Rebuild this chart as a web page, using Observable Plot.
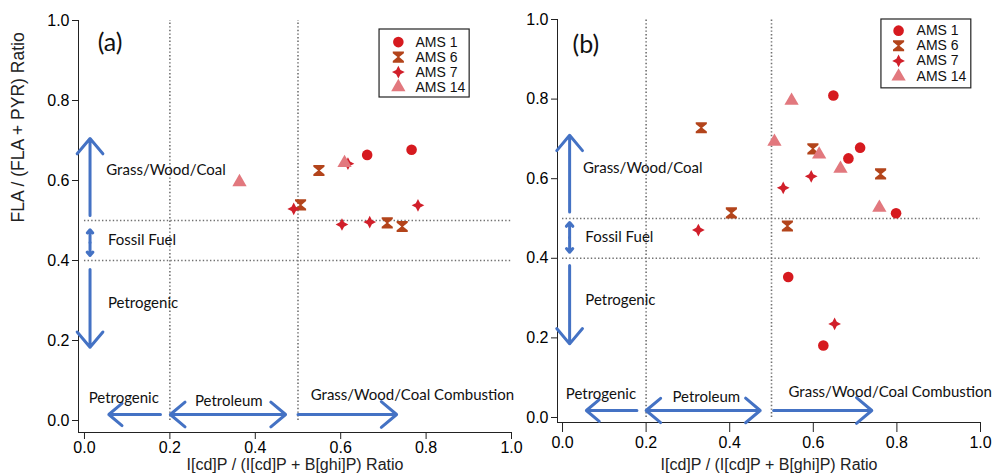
<!DOCTYPE html>
<html><head><meta charset="utf-8">
<script src="https://cdn.jsdelivr.net/npm/d3@7"></script>
<script src="https://cdn.jsdelivr.net/npm/@observablehq/plot@0.6"></script>
<style>
body{margin:0;background:#fff;}
#wrap{position:relative;width:994px;height:476px;overflow:hidden;background:#fff;}
#wrap svg{position:absolute;top:0;}
</style></head><body><div id="wrap"></div>
<script>
// ---- data ----
const series = ["AMS 1", "AMS 6", "AMS 7", "AMS 14"];
const seriesColors = ["#d61a1f", "#b3441b", "#d11f2a", "#e2787e"];
const xTicks = [0, 0.2, 0.4, 0.6, 0.8, 1.0];
const yTicks = [0, 0.2, 0.4, 0.6, 0.8, 1.0];
const xTitle = "I[cd]P / (I[cd]P + B[ghi]P) Ratio";
const yTitle = "FLA / (FLA + PYR) Ratio";

// panel (a): [IcdP ratio, FLA ratio]
const a_AMS1 = [[0.662, 0.664], [0.766, 0.677]];
const a_AMS6 = [[0.506, 0.539], [0.549, 0.625], [0.709, 0.494], [0.744, 0.485]];
const a_AMS7 = [[0.490, 0.529], [0.617, 0.642], [0.603, 0.490], [0.668, 0.496], [0.781, 0.538]];
const a_AMS14 = [[0.363, 0.596], [0.609, 0.644]];

// panel (b)
const b_AMS1 = [[0.648, 0.809], [0.712, 0.678], [0.684, 0.651], [0.798, 0.513], [0.54, 0.353], [0.624, 0.181]];
const b_AMS6 = [[0.332, 0.728], [0.599, 0.675], [0.761, 0.612], [0.404, 0.514], [0.538, 0.481]];
const b_AMS7 = [[0.595, 0.606], [0.528, 0.577], [0.325, 0.471], [0.651, 0.235]];
const b_AMS14 = [[0.507, 0.693], [0.548, 0.796], [0.614, 0.661], [0.665, 0.625], [0.758, 0.527]];

// threshold lines
const xThresholds = [0.2, 0.5];
const yThresholds = [0.4, 0.5];

// annotation arrows/labels (data units)
const annA = {
  tag: "(a)", tagPos: [0.06, 0.943],
  vx: 0.013,
  vArrows: [[0.5125, 0.705], [0.445, 0.477], [0.445, 0.4125], [0.3775, 0.183]],
  vLabels: [["Grass/Wood/Coal", 0.051, 0.625], ["Fossil Fuel", 0.055, 0.452], ["Petrogenic", 0.055, 0.293]],
  hy: 0.015,
  hArrows: [[0.178, 0.057], [0.336, 0.201], [0.336, 0.471], [0.5, 0.731]],
  hLabels: [["Petrogenic", 0.092, 0.057], ["Petroleum", 0.338, 0.048], ["Grass/Wood/Coal Combustion", 0.768, 0.0625]],
  legend: {x1: 0.691, x2: 0.902, y1: 0.8075, y2: 0.9775, sx: 0.735, tx: 0.775, ys: [0.946, 0.9085, 0.871, 0.8335]}
};
const annB = {
  tag: "(b)", tagPos: [0.056, 0.935],
  vx: 0.017,
  vArrows: [[0.516, 0.709], [0.452, 0.49], [0.452, 0.415], [0.382, 0.185]],
  vLabels: [["Grass/Wood/Coal", 0.049, 0.627], ["Fossil Fuel", 0.0545, 0.453], ["Petrogenic", 0.0545, 0.294]],
  hy: 0.0176,
  hArrows: [[0.178, 0.057], [0.336, 0.2], [0.336, 0.473], [0.505, 0.74]],
  hLabels: [["Petrogenic", 0.092, 0.058], ["Petroleum", 0.344, 0.051], ["Grass/Wood/Coal Combustion", 0.784, 0.0636]],
  legend: {x1: 0.763, x2: 0.978, y1: 0.827, y2: 1.0, sx: 0.804, tx: 0.847, ys: [0.972, 0.934, 0.896, 0.857]}
};

// ---- symbols ----
const hourglass = {draw(ctx, size) {
  const s = Math.sqrt(size / Math.PI) * 1.05, c = 0.32 * s, n = 0.16 * s;
  ctx.moveTo(-s, -s); ctx.lineTo(s, -s); ctx.lineTo(s, -s + c); ctx.lineTo(n, 0);
  ctx.lineTo(s, s - c); ctx.lineTo(s, s); ctx.lineTo(-s, s); ctx.lineTo(-s, s - c);
  ctx.lineTo(-n, 0); ctx.lineTo(-s, -s + c); ctx.closePath();
}};
const star4 = {draw(ctx, size) {
  const s = Math.sqrt(size / Math.PI) * 1.2, k = 0.34 * s;
  ctx.moveTo(0, -s); ctx.lineTo(k, -k); ctx.lineTo(s, 0); ctx.lineTo(k, k);
  ctx.lineTo(0, s); ctx.lineTo(-k, k); ctx.lineTo(-s, 0); ctx.lineTo(-k, -k); ctx.closePath();
}};
const symbolRange = [d3.symbolCircle, hourglass, star4, d3.symbolTriangle];

const rows = (sets) => sets.flatMap((pts, i) => pts.map(([x, y]) => ({x, y, s: series[i]})));

const ARROW = "#4472c4";
const annFont = "Lato, 'Open Sans', sans-serif";
const axFont = "'Liberation Sans', Arial, sans-serif";

function panel(opts) {
  const {data, ann, width, mL, mR, mT, mB, xDom, yDom, showYTitle, titleDy, xTickSize, xTickPad} = opts;
  const L = ann.legend;
  const legendRows = series.map((s, i) => ({s, y: L.ys[i]}));
  const marks = [
    Plot.ruleX(xThresholds, {y1: 0, y2: 1, stroke: "#707070", strokeWidth: 1.6, strokeDasharray: "1.4,2.2"}),
    Plot.ruleY(yThresholds, {x1: 0, x2: 1, stroke: "#707070", strokeWidth: 1.6, strokeDasharray: "1.4,2.2"}),
    Plot.ruleY([yDom[0]], {stroke: "#222", strokeWidth: 1}),
    Plot.ruleX([xDom[0]], {stroke: "#222", strokeWidth: 1}),
    Plot.axisX(xTicks, {tickFormat: d3.format(".1f"), tickSize: xTickSize, tickPadding: xTickPad, label: null, fontSize: 16, fontFamily: axFont, stroke: "#222"}),
    Plot.axisY(yTicks, {tickFormat: d3.format(".1f"), tickSize: 6, tickPadding: 3, label: null, fontSize: 16, fontFamily: axFont, stroke: "#222"}),
    Plot.text([xTitle], {frameAnchor: "bottom", dy: titleDy, text: d => d, fontSize: 16, fontFamily: axFont, fill: "#222"}),
    Plot.arrow(ann.vArrows, {x1: () => ann.vx, x2: () => ann.vx, y1: d => d[0], y2: d => d[1], stroke: ARROW, strokeWidth: 3, headLength: 10, headAngle: 80}),
    Plot.arrow(ann.hArrows, {y1: () => ann.hy, y2: () => ann.hy, x1: d => d[0], x2: d => d[1], stroke: ARROW, strokeWidth: 3, headLength: 10, headAngle: 80}),
    Plot.text(ann.vLabels, {x: d => d[1], y: d => d[2], text: d => d[0], textAnchor: "start", fontSize: 15, fontFamily: annFont, fill: "#111"}),
    Plot.text(ann.hLabels, {x: d => d[1], y: d => d[2], text: d => d[0], textAnchor: "middle", fontSize: 15, fontFamily: annFont, fill: "#111"}),
    Plot.text([ann.tag], {x: () => ann.tagPos[0], y: () => ann.tagPos[1], text: d => d, fontSize: 25, fontFamily: annFont, fill: "#111"}),
    // data
    Plot.dot(data, {x: "x", y: "y", symbol: "s", fill: "s", r: 5.3}),
    // legend
    Plot.rect([L], {x1: "x1", x2: "x2", y1: "y1", y2: "y2", fill: "white", stroke: "#222", strokeWidth: 1.2}),
    Plot.dot(legendRows, {x: () => L.sx, y: "y", symbol: "s", fill: "s", r: 5.3}),
    Plot.text(legendRows, {x: () => L.tx, y: "y", text: "s", textAnchor: "start", fontSize: 14, fontFamily: axFont, fill: "#111"})
  ];
  if (showYTitle) marks.push(Plot.text([yTitle], {frameAnchor: "left", dx: -60, dy: -4, rotate: -90, text: d => d, fontSize: 17.5, fontFamily: axFont, fill: "#222"}));
  return Plot.plot({
    width, height: 476,
    marginLeft: mL, marginRight: mR, marginTop: mT, marginBottom: mB,
    style: {background: "none", overflow: "visible", fontFamily: axFont},
    x: {domain: xDom},
    y: {domain: yDom},
    symbol: {domain: series, range: symbolRange},
    color: {domain: series, range: seriesColors},
    marks
  });
}

const wrap = document.getElementById("wrap");
const pa = panel({data: rows([a_AMS1, a_AMS6, a_AMS7, a_AMS14]), ann: annA, width: 530, mL: 78, mR: 19, mT: 20, mB: 44,
  xDom: [-0.014, 1], yDom: [-0.03, 1], showYTitle: true, titleDy: 37, xTickSize: 7, xTickPad: 2});
pa.style.left = "0px";
const pb = panel({data: rows([b_AMS1, b_AMS6, b_AMS7, b_AMS14]), ann: annB, width: 514, mL: 77, mR: 14, mT: 19, mB: 54,
  xDom: [-0.012, 1], yDom: [-0.0126, 1], showYTitle: false, titleDy: 47, xTickSize: 10, xTickPad: 4});
pb.style.left = "480px";
wrap.appendChild(pa);
wrap.appendChild(pb);
</script></body></html>
